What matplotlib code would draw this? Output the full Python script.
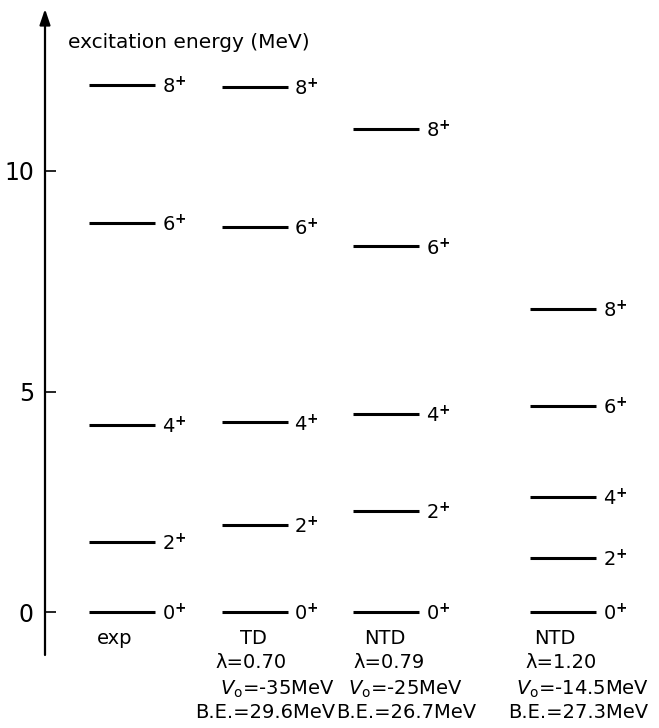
import matplotlib
matplotlib.use("Agg")
import matplotlib.pyplot as plt

# ---- data ----
spins = [0, 2, 4, 6, 8]
exp_levels = [0.0, 1.59, 4.25, 8.82, 11.95]
td_levels = [0.0, 1.97, 4.30, 8.74, 11.91]
ntd1_levels = [0.0, 2.29, 4.50, 8.29, 10.96]
ntd2_levels = [0.0, 1.23, 2.61, 4.67, 6.88]
column_names = ["exp", "TD", "NTD", "NTD"]
lambdas = ["", "λ=0.70", "λ=0.79", "λ=1.20"]
v0_texts = ["", "-35MeV", "-25MeV", "-14.5MeV"]
be_texts = ["", "B.E.=29.6MeV", "B.E.=26.7MeV", "B.E.=27.3MeV"]
yticks = [0, 5, 10]

plt.rcParams['font.family'] = ['DejaVu Sans']
plt.rcParams['mathtext.fontset'] = 'dejavusans'

fig = plt.figure(figsize=(6.59, 7.28), dpi=100)
top_px, bot_px = 9, 655
ax = fig.add_axes([45/659, 1 - bot_px/728, 1 - 45/659, (bot_px - top_px)/728])

PX = 44.1  # pixels per MeV (layout)
def ypx(p):
    return (612 - p) / PX

ymin = ypx(bot_px)
ymax = ypx(top_px)
ax.set_xlim(0, 614)
ax.set_ylim(ymin, ymax)

centers = [76.5, 209.5, 341, 518]
half = 33
all_levels = [exp_levels, td_levels, ntd1_levels, ntd2_levels]
for c, levels in zip(centers, all_levels):
    for s, e in zip(spins, levels):
        ax.plot([c - half, c + half], [e, e], color='black', lw=2.2,
                solid_capstyle='butt')
        ax.text(c + half + 7, e - 2 / PX, f"{s}$^{{\\mathbf{{+}}}}$",
                fontsize=14, ha='left', va='center')

# bottom labels (offsets in px relative to column centers)
name_dx = [-7, -1.5, -1, -8]
lam_dx = [0, -3.5, 3, -2]
v0_dx = [0, 22.5, 19, 20]
be_dx = [0, 10.5, 20, 15]
rows = [638, 663, 689, 713]
for i, c in enumerate(centers):
    ax.text(c + name_dx[i], ypx(rows[0]), column_names[i], fontsize=14,
            ha='center', va='center')
    if lambdas[i]:
        ax.text(c + lam_dx[i], ypx(rows[1]), lambdas[i], fontsize=14,
                ha='center', va='center')
        ax.text(c + v0_dx[i], ypx(rows[2]),
                r"$\mathit{V}_\mathrm{o}$=" + v0_texts[i],
                fontsize=14, ha='center', va='center')
        ax.text(c + be_dx[i], ypx(rows[3]), be_texts[i], fontsize=14,
                ha='center', va='center')

ax.text(23, ypx(43), "excitation energy (MeV)", fontsize=14.5,
        ha='left', va='center')

for sp in ['top', 'right', 'bottom', 'left']:
    ax.spines[sp].set_visible(False)
ax.annotate("", xy=(0, ymax), xytext=(0, ymin),
            arrowprops=dict(arrowstyle='-|>,head_width=0.16,head_length=0.47',
                            color='black', lw=1.6, shrinkA=0, shrinkB=0,
                            mutation_scale=20))
ax.set_xticks([])
ax.set_yticks(yticks)
ax.set_yticklabels([str(t) for t in yticks])
ax.tick_params(axis='y', direction='in', length=8, width=1.2, pad=8,
               labelsize=17)

fig.savefig("out.png", dpi=100)
